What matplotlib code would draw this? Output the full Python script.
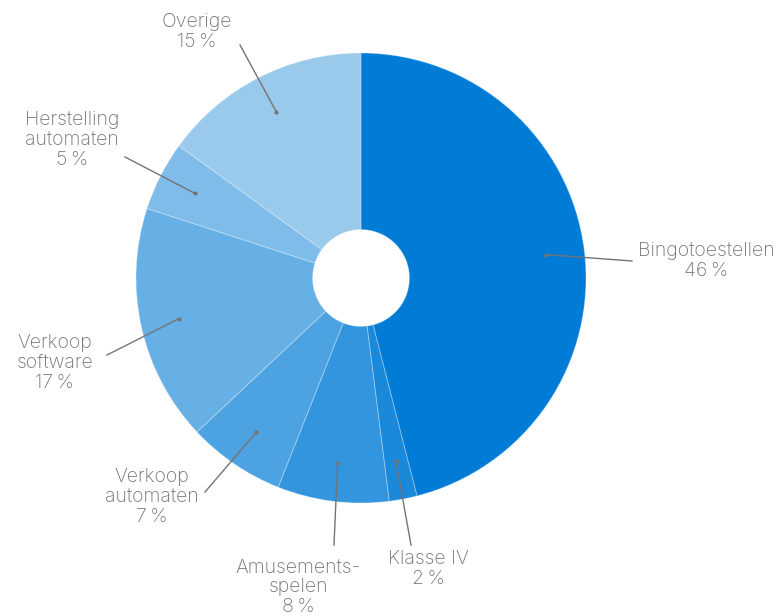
import matplotlib
matplotlib.use("Agg")
import matplotlib.pyplot as plt
import numpy as np

categories = ["Bingotoestellen", "Klasse IV", "Amusements-\nspelen", "Verkoop\nautomaten",
              "Verkoop\nsoftware", "Herstelling\nautomaten", "Overige"]
values = [46, 2, 8, 7, 17, 5, 15]
colors = ["#007CD6", "#1A89DA", "#3395DE", "#4DA2E2", "#66B0E6", "#80BCE9", "#99CAEC"]

# label anchor positions (pixels, top-left origin) and alignment
label_pos = [(638, 261, "left"), (428, 569, "center"), (298, 587, "center"),
             (199, 497, "right"), (93, 363, "right"), (72, 140, "center"), (197, 32, "center")]
line_end = [(632, 261), (411, 545), (334, 545), (205, 492), (107, 355), (125, 157), (240, 45)]

W, H = 782, 616
fig = plt.figure(figsize=(W / 100, H / 100), dpi=100)
ax = fig.add_axes([0, 0, 1, 1])

cx, cy, R = 361, H - 278, 225
wedges, _ = ax.pie(values, colors=colors, startangle=90, counterclock=False,
                   radius=R, center=(cx, cy), frame=True,
                   wedgeprops=dict(width=R * 0.785, edgecolor=(1, 1, 1, 0.25), linewidth=0.8))
ax.set_xlim(0, W)
ax.set_ylim(0, H)
ax.set_aspect("equal")
ax.axis("off")

gray = "#747474"
fam = ["Inter", "DejaVu Sans"]
for w, cat, v, (lx, ly, ha), (ex, ey) in zip(wedges, categories, values, label_pos, line_end):
    ang = np.deg2rad((w.theta1 + w.theta2) / 2)
    px, py = cx + 0.83 * R * np.cos(ang), cy + 0.83 * R * np.sin(ang)
    ax.plot([px, ex], [py, H - ey], color=gray, lw=1.0)
    ax.plot([px], [py], "o", color=gray, ms=2)
    txt = f"{cat}\n{v}\u2009%"
    ax.text(lx, H - ly, txt, ha=ha, va="center", fontsize=14, color=gray,
            family=fam, fontweight="light", linespacing=1.12, multialignment="center")

fig.savefig("out.png", dpi=100)
